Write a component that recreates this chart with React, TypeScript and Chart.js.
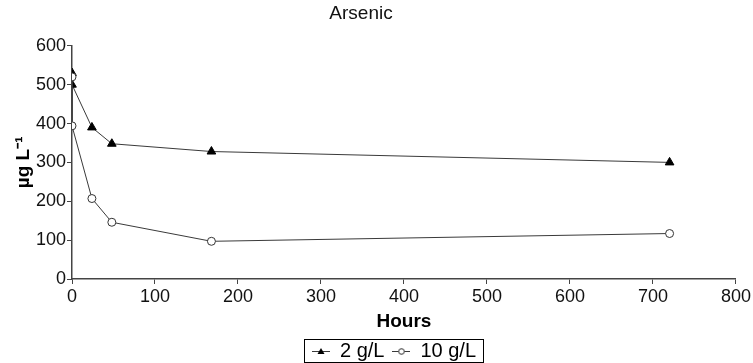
import React, { useEffect, useRef } from "react";
import { Chart, registerables } from "chart.js";

Chart.register(...registerables);

const hours2 = [0, 0, 24, 48, 168, 720];
const values2 = [530, 500, 390, 348, 328, 300];
const hours10 = [0, 0, 24, 48, 168, 720];
const values10 = [520, 394, 207, 146, 97, 117];
const seriesNames = ["2 g/L", "10 g/L"];
const chartTitle = "Arsenic";
const xTitle = "Hours";
const yTitle = "µg L⁻¹";

const FONT = "'Liberation Sans', Arial, Helvetica, sans-serif";
const LINE = "#3a3a3a";

function makeSample(style: "triangle" | "circle"): HTMLCanvasElement {
  const c = document.createElement("canvas");
  c.width = 18;
  c.height = 10;
  const ctx = c.getContext("2d")!;
  ctx.strokeStyle = LINE;
  ctx.lineWidth = 1;
  ctx.beginPath();
  ctx.moveTo(0, 5.5);
  ctx.lineTo(18, 5.5);
  ctx.stroke();
  if (style === "triangle") {
    ctx.fillStyle = "#000";
    ctx.beginPath();
    ctx.moveTo(9, 2);
    ctx.lineTo(12.5, 8);
    ctx.lineTo(5.5, 8);
    ctx.closePath();
    ctx.fill();
  } else {
    ctx.fillStyle = "#fff";
    ctx.strokeStyle = "#333";
    ctx.beginPath();
    ctx.arc(9, 5.5, 2.8, 0, Math.PI * 2);
    ctx.fill();
    ctx.stroke();
  }
  return c;
}

const layoutPlugin = {
  id: "shiftBoxes",
  afterLayout(chart: any) {
    const l = chart.legend;
    if (l) {
      const dx = 394 - (l.left + l.right) / 2;
      l.left += dx;
      l.right += dx;
    }
    const t = chart.titleBlock;
    if (t) {
      const dx = 361 - (t.left + t.right) / 2;
      t.left += dx;
      t.right += dx;
    }
  },
  afterDraw(chart: any) {
    const l = chart.legend;
    if (!l || !l.legendHitBoxes || !l.legendHitBoxes.length) return;
    const hb = l.legendHitBoxes;
    let minX = Infinity, maxX = -Infinity, minY = Infinity, maxY = -Infinity;
    hb.forEach((h: any) => {
      minX = Math.min(minX, h.left);
      maxX = Math.max(maxX, h.left + h.width);
      minY = Math.min(minY, h.top);
      maxY = Math.max(maxY, h.top + h.height);
    });
    const ctx = chart.ctx;
    ctx.save();
    ctx.strokeStyle = "#000";
    ctx.lineWidth = 1;
    ctx.strokeRect(
      Math.round(minX - 8) + 0.5,
      Math.round(minY - 2) + 0.5,
      Math.round(maxX - minX + 15),
      Math.round(maxY - minY + 3)
    );
    ctx.restore();
  },
};

export default function App() {
  const ref = useRef<HTMLCanvasElement>(null);

  useEffect(() => {
    if (!ref.current) return;
    const samples = [makeSample("triangle"), makeSample("circle")];
    const chart = new Chart(ref.current, {
      type: "line",
      data: {
        datasets: [
          {
            label: seriesNames[0],
            data: hours2.map((h, i) => ({ x: h, y: values2[i] })),
            borderColor: LINE,
            borderWidth: 1,
            pointStyle: "triangle",
            pointRadius: 5,
            pointBackgroundColor: "#000",
            pointBorderColor: "#000",
            pointBorderWidth: 1,
            fill: false,
            tension: 0,
            order: 1,
          },
          {
            label: seriesNames[1],
            data: hours10.map((h, i) => ({ x: h, y: values10[i] })),
            borderColor: LINE,
            borderWidth: 1,
            pointStyle: "circle",
            pointRadius: 4,
            pointBackgroundColor: "#fff",
            pointBorderColor: "#333",
            pointBorderWidth: 1,
            fill: false,
            tension: 0,
            order: 0,
          },
        ],
      },
      options: {
        animation: false,
        responsive: false,
        maintainAspectRatio: false,
        layout: { padding: { left: 0, right: 17, top: 0, bottom: -8 } },
        scales: {
          x: {
            type: "linear",
            min: 0,
            max: 800,
            border: { display: true, color: "#444", width: 1.5 },
            grid: { display: true, drawOnChartArea: false, drawTicks: true, tickLength: 5, color: "#444" },
            ticks: { stepSize: 100, color: "#111", font: { family: FONT, size: 18 }, padding: 2, maxRotation: 0 },
            title: { display: true, text: xTitle, color: "#000", font: { family: FONT, size: 19, weight: "bold" }, padding: { top: 0, bottom: 0 } },
            afterFit: (s: any) => { s.height = 54; },
          },
          y: {
            type: "linear",
            min: 0,
            max: 600,
            border: { display: true, color: "#444", width: 1.5 },
            grid: { display: true, drawOnChartArea: false, drawTicks: true, tickLength: 5, color: "#444" },
            ticks: { stepSize: 100, color: "#111", font: { family: FONT, size: 18 }, padding: 1 },
            title: { display: true, text: yTitle, color: "#000", font: { family: FONT, size: 19, weight: "bold" }, padding: { top: 12, bottom: 0 } },
            afterFit: (s: any) => { s.width = 72; },
          },
        },
        plugins: {
          title: {
            display: true,
            text: chartTitle,
            color: "#111",
            font: { family: FONT, size: 19, weight: "normal" },
            padding: { top: 2, bottom: 21 },
          },
          tooltip: { enabled: false },
          legend: {
            display: true,
            position: "bottom",
            labels: {
              usePointStyle: true,
              pointStyleWidth: 18,
              padding: 8,
              color: "#000",
              font: { family: FONT, size: 20 },
              generateLabels: (c: any) => {
                const items = Chart.defaults.plugins.legend.labels.generateLabels(c);
                items.sort((a: any, b: any) => a.datasetIndex - b.datasetIndex);
                return items.map((it: any) => ({ ...it, pointStyle: samples[it.datasetIndex], lineWidth: 0 }));
              },
            },
          },
        },
      },
      plugins: [layoutPlugin],
    } as any);
    return () => chart.destroy();
  }, []);

  return (
    <div style={{ position: "fixed", left: 0, top: 0, width: 753, height: 363, background: "#fff" }}>
      <canvas ref={ref} width={753} height={363} style={{ width: 753, height: 363, display: "block" }} />
    </div>
  );
}
